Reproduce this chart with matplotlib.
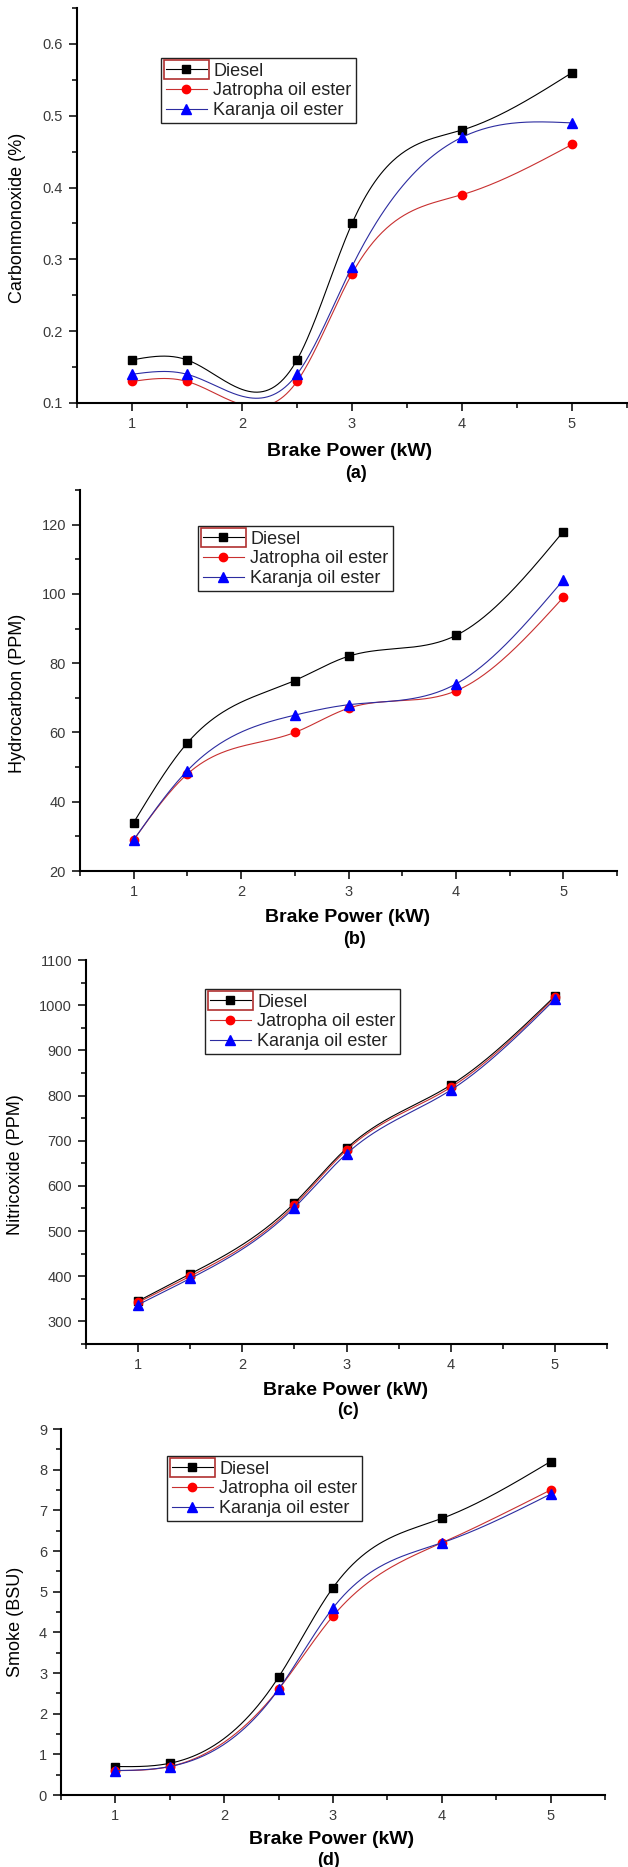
import numpy as np
import matplotlib
matplotlib.use('agg')
import matplotlib.pyplot as plt
from matplotlib.ticker import MultipleLocator, FormatStrFormatter
from matplotlib.patches import Rectangle
from matplotlib.lines import Line2D

plt.rcParams['font.family'] = ['Liberation Sans', 'DejaVu Sans']

# brake power (kW)
power = [1, 1.5, 2.5, 3, 4, 5]
series_names = ["Diesel", "Jatropha oil ester", "Karanja oil ester"]

# (a) carbon monoxide (%)
co_diesel = [0.16, 0.16, 0.16, 0.35, 0.48, 0.56]
co_jatropha = [0.13, 0.13, 0.13, 0.28, 0.39, 0.46]
co_karanja = [0.14, 0.14, 0.14, 0.29, 0.47, 0.49]

# (b) hydrocarbon (PPM)
hc_diesel = [34, 57, 75, 82, 88, 118]
hc_jatropha = [29, 48, 60, 67, 72, 99]
hc_karanja = [29, 49, 65, 68, 74, 104]

# (c) nitric oxide (PPM)
no_diesel = [345, 405, 562, 683, 823, 1020]
no_jatropha = [342, 400, 557, 679, 818, 1017]
no_karanja = [337, 395, 552, 671, 812, 1013]

# (d) smoke (BSU)
smoke_diesel = [0.7, 0.78, 2.9, 5.1, 6.8, 8.2]
smoke_jatropha = [0.6, 0.7, 2.6, 4.4, 6.2, 7.5]
smoke_karanja = [0.6, 0.7, 2.6, 4.6, 6.2, 7.4]

W, H = 628, 1867
fig = plt.figure(figsize=(W / 100, H / 100), dpi=100)

line_colors = ['black', '#c83030', '#2c2ca0']
marker_colors = ['black', '#ff0000', '#0000ff']
markers = ['s', 'o', '^']
msizes = [5.5, 6, 6.5]


def spline(x, y, n=300):
    # natural cubic spline, like the "spline" connect in Origin
    x = np.asarray(x, float)
    y = np.asarray(y, float)
    m = len(x)
    h = np.diff(x)
    A = np.zeros((m, m))
    r = np.zeros(m)
    A[0, 0] = A[-1, -1] = 1
    for i in range(1, m - 1):
        A[i, i - 1] = h[i - 1]
        A[i, i] = 2 * (h[i - 1] + h[i])
        A[i, i + 1] = h[i]
        r[i] = 3 * ((y[i + 1] - y[i]) / h[i] - (y[i] - y[i - 1]) / h[i - 1])
    c = np.linalg.solve(A, r)
    b = (y[1:] - y[:-1]) / h - h * (2 * c[:-1] + c[1:]) / 3
    d = (c[1:] - c[:-1]) / (3 * h)
    xs = np.linspace(x[0], x[-1], n)
    idx = np.clip(np.searchsorted(x, xs) - 1, 0, m - 2)
    dx = xs - x[idx]
    ys = y[idx] + b[idx] * dx + c[idx] * dx ** 2 + d[idx] * dx ** 3
    return xs, ys


panels = [
    # box (left, top, right, bottom) in px, then label / legend positions in px
    dict(box=(77, 8, 627, 403), ylim=(0.1, 0.65), major=0.1, minor=0.05, fmt='%.1f',
         ylabel='Carbonmonoxide (%)', data=[co_diesel, co_jatropha, co_karanja],
         leg=(161, 58), ylab=(18, 218), xlab=(350, 452), tag=(356, 474), text='(a)'),
    dict(box=(80, 490, 617, 871), ylim=(20, 130), major=20, minor=10, fmt='%d',
         ylabel='Hydrocarbon (PPM)', data=[hc_diesel, hc_jatropha, hc_karanja],
         leg=(198, 526), ylab=(18, 693), xlab=(348, 917), tag=(354, 939), text='(b)'),
    dict(box=(86, 960, 607, 1344), ylim=(250, 1100), major=100, minor=50, fmt='%d',
         ylabel='Nitricoxide (PPM)', data=[no_diesel, no_jatropha, no_karanja],
         leg=(205, 989), ylab=(16, 1165), xlab=(346, 1390), tag=(348, 1410), text='(c)'),
    dict(box=(61, 1429, 605, 1795), ylim=(0, 9), major=1, minor=0.5, fmt='%d',
         ylabel='Smoke (BSU)', data=[smoke_diesel, smoke_jatropha, smoke_karanja],
         leg=(167, 1456), ylab=(16, 1622), xlab=(332, 1839), tag=(328, 1860), text='(d)'),
]

legends = []
for p in panels:
    l, t, r, b = p['box']
    ax = fig.add_axes([l / W, 1 - b / H, (r - l) / W, (b - t) / H])
    for vals, lc, mc, mk, ms in zip(p['data'], line_colors, marker_colors, markers, msizes):
        xs, ys = spline(power, vals)
        ax.plot(xs, ys, color=lc, lw=0.8)
        ax.plot(power, vals, linestyle='none', marker=mk, ms=ms, color=mc, mec=mc)
    ax.set_xlim(0.5, 5.5)
    ax.set_ylim(*p['ylim'])
    ax.xaxis.set_major_locator(MultipleLocator(1))
    ax.xaxis.set_minor_locator(MultipleLocator(0.5))
    ax.yaxis.set_major_locator(MultipleLocator(p['major']))
    ax.yaxis.set_minor_locator(MultipleLocator(p['minor']))
    ax.yaxis.set_major_formatter(FormatStrFormatter(p['fmt']))
    ax.spines['top'].set_visible(False)
    ax.spines['right'].set_visible(False)
    for s in ['left', 'bottom']:
        ax.spines[s].set_linewidth(1.5)
    ax.tick_params(which='major', direction='out', length=6, width=1.1,
                   labelsize=10.5, labelcolor='#3a3a3a', pad=4)
    ax.tick_params(which='minor', direction='out', length=3.5, width=1.1)

    handles = [Line2D([], [], color=lc, lw=0.8, marker=mk, ms=ms, mfc=mc, mec=mc)
               for lc, mc, mk, ms in zip(line_colors, marker_colors, markers, msizes)]
    lx, ly = p['leg']
    leg = fig.legend(handles, series_names, loc='upper left',
                     bbox_to_anchor=(lx / W, 1 - ly / H), bbox_transform=fig.transFigure,
                     borderaxespad=0, fontsize=13, frameon=True, fancybox=False,
                     framealpha=1, edgecolor='#222222', handlelength=2.3,
                     handletextpad=0.35, labelspacing=0.15, borderpad=0.25)
    leg.get_frame().set_linewidth(1.0)
    for txt in leg.get_texts():
        txt.set_color('#222222')
    legends.append(leg)

    fig.text(p['ylab'][0] / W, 1 - p['ylab'][1] / H, p['ylabel'], rotation=90,
             ha='center', va='center', fontsize=13)
    fig.text(p['xlab'][0] / W, 1 - p['xlab'][1] / H, 'Brake Power (kW)',
             ha='center', va='center', fontsize=14, fontweight='bold')
    fig.text(p['tag'][0] / W, 1 - p['tag'][1] / H, p['text'],
             ha='center', va='center', fontsize=13, fontweight='bold')

# red selection box around the first legend handle (as in the original)
fig.canvas.draw()
renderer = fig.canvas.get_renderer()
inv = fig.transFigure.inverted()
for leg in legends:
    fr = leg.get_frame().get_window_extent(renderer)
    tx = leg.get_texts()[0].get_window_extent(renderer)
    x0, x1 = fr.x0 + 3, tx.x0 - 4
    y1 = fr.y1 - 2
    y0 = y1 - 19
    (fx0, fy0), (fx1, fy1) = inv.transform([(x0, y0), (x1, y1)])
    fig.patches.append(Rectangle((fx0, fy0), fx1 - fx0, fy1 - fy0, fill=False,
                                 edgecolor='#b03030', lw=1.2, transform=fig.transFigure,
                                 figure=fig, zorder=10))

fig.savefig('out.png', dpi=100)
